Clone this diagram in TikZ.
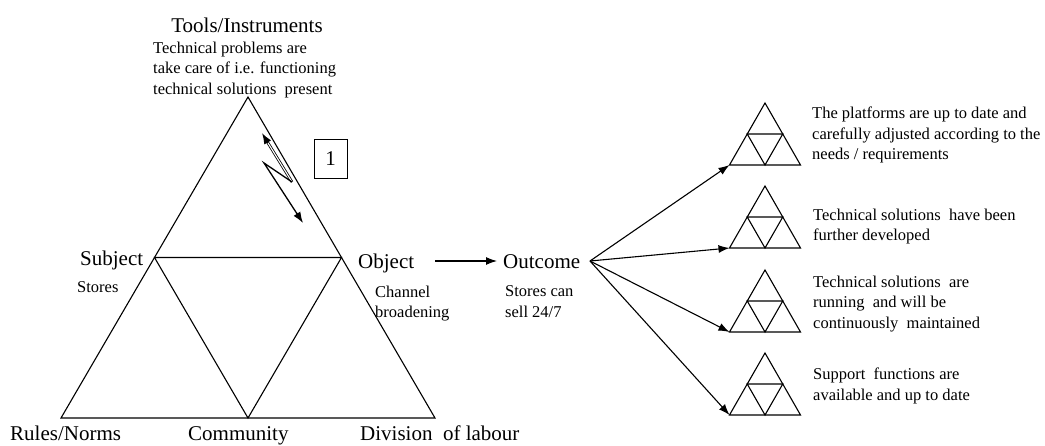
\documentclass[tikz,border=0pt]{standalone}
\usepackage{fontspec}
\setmainfont{Liberation Serif}
\usetikzlibrary{arrows.meta}
\begin{document}
\begin{tikzpicture}[x=1pt,y=-1pt,
  ln/.style={line width=1.1pt, line join=miter},
  arr/.style={line width=1.1pt,-{Latex[length=11pt,width=8pt]}},
  bigtxt/.style={font=\fontsize{21}{24}\selectfont, inner sep=0pt},
  smalltxt/.style={font=\fontsize{16.5}{20.5}\selectfont, inner sep=0pt, align=left},
  minitri/.style={line width=1.1pt, line join=miter}]
\useasboundingbox (0,0) rectangle (1045,445);

% activity-system triangle: corners and edge midpoints
\coordinate (A)  at (248,97);
\coordinate (BL) at (61,418);
\coordinate (BR) at (435,418);
\coordinate (BM) at (248,418);
\coordinate (LM) at (154.5,257.5);
\coordinate (RM) at (341.5,257.5);
\draw[ln] (A) -- (BL) -- (BR) -- cycle;
\draw[ln] (LM) -- (RM) -- (BM) -- cycle;

% labels around the triangle
\node[bigtxt, anchor=base] (tools) at (247,32) {Tools/Instruments};
\node[smalltxt, anchor=north west] (toolsnote) at (153,41.7)
  {Technical problems are\\take care of i.e. functioning\\technical solutions\ \ present};
\node[bigtxt, anchor=base west] (subj) at (80,265) {Subject};
\node[smalltxt, anchor=base west] (subjnote) at (77,292) {Stores};
\node[bigtxt, anchor=base west] (obj) at (358,268) {Object};
\node[smalltxt, anchor=north west] (objnote) at (375,285.7) {Channel\\broadening};
\node[bigtxt, anchor=base west] (outc) at (503,268) {Outcome};
\node[smalltxt, anchor=north west] (outcnote) at (505,285.7) {Stores can\\sell 24/7};
\node[bigtxt, anchor=base west] (rules) at (10,440) {Rules/Norms};
\node[bigtxt, anchor=base west] (comm) at (188,440) {Community};
\node[bigtxt, anchor=base west] (divl) at (360,440) {Division\ \ of labour};

% contradiction marker and its number
\node[bigtxt, draw, line width=0.9pt, minimum width=33pt, minimum height=39pt] (one) at (330.5,158.5) {1};
\draw[line width=0.8pt, double distance=1.1pt, line join=round] (266.5,140.5) -- (292,182);
\draw[line width=1.3pt, line join=miter] (292,182) -- (264,163) -- (297.5,214.5);
\draw[line width=1.3pt, -{Latex[length=11pt,width=8pt]}] (268,143) -- (262,133);
\draw[line width=1.3pt, -{Latex[length=11pt,width=8pt]}] (296.5,213) -- (303,223);

% object to outcome
\coordinate (objr) at (435,261);
\coordinate (outl) at (497,261);
\draw[arr] (objr) -- (outl);

% small triangles
\foreach \i/\ty in {1/103, 2/186, 3/270, 4/353} {
  \coordinate (t\i a) at (765,\ty);
  \coordinate (t\i l) at (729.5,\ty+62);
  \coordinate (t\i r) at (800.5,\ty+62);
  \coordinate (t\i m) at (765,\ty+62);
  \coordinate (t\i p) at (747.25,\ty+31);
  \coordinate (t\i q) at (782.75,\ty+31);
  \draw[minitri] (t\i a) -- (t\i l) -- (t\i r) -- cycle;
  \draw[minitri] (t\i p) -- (t\i q) -- (t\i m) -- cycle;
}

% outcome fan
\coordinate (fan) at (590,261);
\draw[arr] (fan) -- (t1l);
\draw[arr] (fan) -- (t2l);
\draw[arr] (fan) -- (t3l);
\draw[arr] (fan) -- (t4l);

% descriptions of each outcome
\node[smalltxt, anchor=north west] (d1) at (812,106.7)
  {The platforms are up to date and\\carefully adjusted according to the\\needs / requirements};
\node[smalltxt, anchor=north west] (d2) at (813,208.7)
  {Technical solutions\ \ have been\\further developed};
\node[smalltxt, anchor=north west] (d3) at (813,275.7)
  {Technical solutions\ \ are\\running\ \ and will be\\continuously\ \ maintained};
\node[smalltxt, anchor=north west] (d4) at (813,367.7)
  {Support\ \ functions are\\available and up to date};
\end{tikzpicture}
\end{document}
